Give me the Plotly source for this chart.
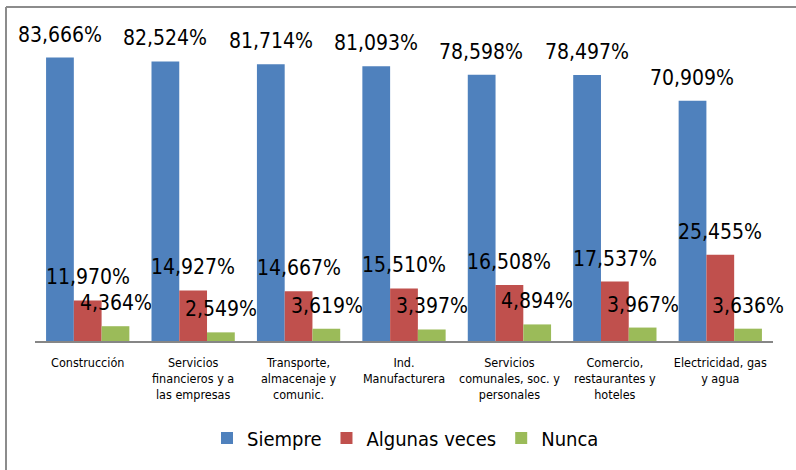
import plotly.graph_objects as go

categories = ["Construcción", "Servicios<br>financieros y a<br>las empresas",
              "Transporte,<br>almacenaje y<br>comunic.", "Ind.<br>Manufacturera",
              "Servicios<br>comunales, soc. y<br>personales",
              "Comercio,<br>restaurantes y<br>hoteles", "Electricidad, gas<br>y agua"]
siempre = [83.666, 82.524, 81.714, 81.093, 78.598, 78.497, 70.909]
algunas = [11.970, 14.927, 14.667, 15.510, 16.508, 17.537, 25.455]
nunca = [4.364, 2.549, 3.619, 3.397, 4.894, 3.967, 3.636]

series = [("Siempre", siempre, "#4F81BD"),
          ("Algunas veces", algunas, "#C0504D"),
          ("Nunca", nunca, "#9BBB59")]

FONT = "DejaVu Sans Condensed, DejaVu Sans, sans-serif"

def fmt(v):
    return f"{v:.3f}".replace(".", ",") + "%"

fig = go.Figure()
for name, vals, col in series:
    fig.add_trace(go.Bar(x=categories, y=vals, name=name, marker_color=col,
                         marker_line_width=0))

annotations = []
shifts = [-28, 0, 28]
for (name, vals, col), dx in zip(series, shifts):
    for c, v in zip(categories, vals):
        annotations.append(dict(x=c, y=v, xref="x", yref="y", text=fmt(v),
                                showarrow=False, xanchor="center", yanchor="bottom",
                                xshift=dx, yshift=9,
                                font=dict(family=FONT, size=21, color="black")))

PH = 288
fig.update_layout(
    width=796, height=470,
    margin=dict(l=35, r=23, t=53, b=129, autoexpand=False),
    paper_bgcolor="white", plot_bgcolor="white",
    barmode="group", bargap=0.21, bargroupgap=0,
    font=dict(family=FONT, color="black"),
    annotations=annotations,
    showlegend=True,
    legend=dict(orientation="h", x=0.5 + 1.5 / 738, xanchor="center", y=-(438 - 341) / PH,
                yanchor="middle",
                font=dict(family=FONT, size=20, color="black")),
    shapes=[
        dict(type="line", xref="paper", yref="paper", x0=-29 / 738, x1=1.2,
             y0=(341 - 7) / PH, y1=(341 - 7) / PH, line=dict(color="#8C8C8C", width=2)),
        dict(type="line", xref="paper", yref="paper", x0=-29 / 738, x1=-29 / 738,
             y0=-0.6, y1=(341 - 7) / PH, line=dict(color="#8C8C8C", width=2)),
    ],
)
fig.update_xaxes(showline=True, linecolor="#868686", linewidth=1.5, ticks="",
                 automargin=False, ticklabelstandoff=9, range=[-0.5, 6.5],
                 tickfont=dict(family=FONT, size=12.5, color="black"), showgrid=False)
fig.update_yaxes(range=[0, 85], visible=False, showgrid=False)

fig.write_html("out.html", config={"displayModeBar": False},
               post_script="document.body.style.margin='0';")
